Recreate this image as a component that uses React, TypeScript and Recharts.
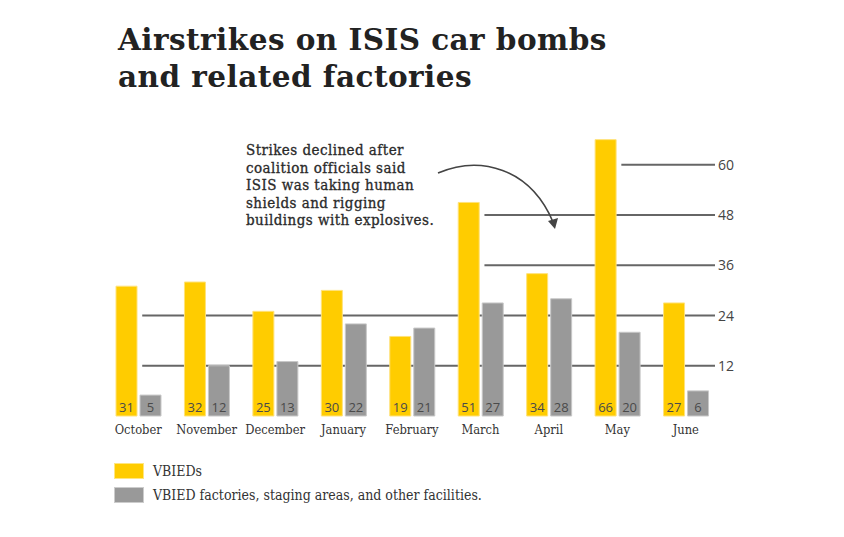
import React from 'react';
import { BarChart, Bar, XAxis, YAxis, CartesianGrid, LabelList } from 'recharts';

const MONTHS = ['October', 'November', 'December', 'January', 'February', 'March', 'April', 'May', 'June'];
const VBIEDS = [31, 32, 25, 30, 19, 51, 34, 66, 27];
const FACILITIES = [5, 12, 13, 22, 21, 27, 28, 20, 6];
const Y_TICKS = [12, 24, 36, 48, 60];
const Y_MAX = 72;
// month after whose first bar each gridline begins
const GRID_START = ['October', 'October', 'March', 'March', 'May'];

const TITLE = ['Airstrikes on ISIS car bombs', 'and related factories'];
const NOTE = [
  'Strikes declined after',
  'coalition officials said',
  'ISIS was taking human',
  'shields and rigging',
  'buildings with explosives.',
];
const LEGEND = [
  { label: 'VBIEDs', color: '#FFCC00', border: '#FFE680' },
  { label: 'VBIED factories, staging areas, and other facilities.', color: '#999999', border: '#CCCCCC' },
];

const data = MONTHS.map((m, i) => ({ month: m, vbied: VBIEDS[i], fac: FACILITIES[i] }));

const SERIF = '"DejaVu Serif", serif';
const SANS = '"Open Sans", sans-serif';

const gridLine = (p: any) => {
  const { x1, x2, y1, y, height } = p;
  const v = Math.round((Y_MAX * (y + height - y1)) / height);
  const ti = Y_TICKS.indexOf(v);
  if (ti < 0) return <g key={`g-${y1}`} />;
  const band = (x2 - x1) / MONTHS.length;
  const mi = MONTHS.indexOf(GRID_START[ti]);
  const start = x1 + band * (mi + 0.5) + 4;
  return <line key={`g-${y1}`} x1={start} x2={x2 - 5} y1={y1} y2={y1} stroke="#666" strokeWidth={2} />;
};

const YTick = (p: any) => {
  const { x, y, payload } = p;
  return (
    <text x={x - 2} y={y} dy={5} fontFamily={SANS} fontSize={14} fill="#444" textAnchor="start">
      {payload.value}
    </text>
  );
};

const XTick = (p: any) => {
  const { x, y, payload } = p;
  return (
    <text x={x} y={y} dy={10} fontFamily={SERIF} fontSize={12.8} fill="#333" textAnchor="middle" style={{ fontStretch: 'condensed' }}>
      {payload.value}
    </text>
  );
};

export default function App() {
  return (
    <div style={{ position: 'absolute', left: 0, top: 0, width: 844, height: 537, background: '#fff' }}>
      <div style={{ position: 'absolute', left: 118, top: 21, fontFamily: SERIF, fontWeight: 700, fontSize: 29.5, lineHeight: '37px', color: '#222', letterSpacing: 0.45 }}>
        {TITLE.map((t) => (
          <div key={t}>{t}</div>
        ))}
      </div>
      <BarChart
        width={844}
        height={537}
        data={data}
        margin={{ top: 114.5, right: 0, bottom: 91, left: 104 }}
        barSize={21}
        barGap={3}
      >
        <CartesianGrid vertical={false} horizontal={gridLine as any} />
        <XAxis dataKey="month" tickLine={false} axisLine={false} tick={<XTick />} interval={0} height={30} />
        <YAxis
          orientation="right"
          domain={[0, Y_MAX]}
          ticks={Y_TICKS}
          tickLine={false}
          axisLine={false}
          tickSize={0}
          tickMargin={0}
          width={124}
          tick={<YTick />}
        />
        <Bar dataKey="vbied" fill="#FFCC00" stroke="#FFE27A" strokeWidth={1} isAnimationActive={false}>
          <LabelList dataKey="vbied" position="insideBottom" fill="#4a4a4a" fontFamily={SANS} fontSize={13} offset={4} />
        </Bar>
        <Bar dataKey="fac" fill="#999999" stroke="#C8C8C8" strokeWidth={1} isAnimationActive={false}>
          <LabelList dataKey="fac" position="insideBottom" fill="#4a4a4a" fontFamily={SANS} fontSize={13} offset={4} />
        </Bar>
      </BarChart>
      <div style={{ position: 'absolute', left: 246, top: 142, fontFamily: SERIF, fontSize: 15, lineHeight: '17.5px', color: '#2a2a2a', fontStretch: 'condensed', letterSpacing: 0.45, WebkitTextStroke: '0.3px #2a2a2a' }}>
        {NOTE.map((t) => (
          <div key={t}>{t}</div>
        ))}
      </div>
      <svg width={844} height={537} style={{ position: 'absolute', left: 0, top: 0, pointerEvents: 'none' }}>
        <path d="M438,173 C480,155 530,168 553,222" fill="none" stroke="#444" strokeWidth={1.6} />
        <path d="M548,221 L558,218 L555,229 Z" fill="#444" />
      </svg>
      <div style={{ position: 'absolute', left: 114, top: 459, fontFamily: SERIF, fontSize: 14, color: '#333', fontStretch: 'condensed' }}>
        {LEGEND.map((l) => (
          <div key={l.label} style={{ display: 'flex', alignItems: 'center', height: 24 }}>
            <div style={{ width: 28, height: 14, background: l.color, border: `1px solid ${l.border}`, marginRight: 9 }} />
            <span>{l.label}</span>
          </div>
        ))}
      </div>
    </div>
  );
}
